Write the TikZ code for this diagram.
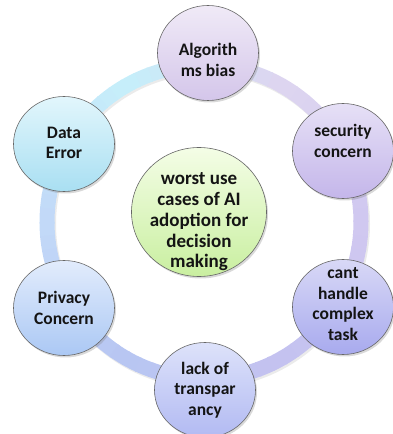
\documentclass[tikz,border=0pt]{standalone}
\usepackage{fontspec}
\setmainfont{Carlito}
\usetikzlibrary{shapes.geometric,shadows}
\definecolor{rA}{HTML}{D0C8F0}
\definecolor{rB}{HTML}{DDD5F0}
\definecolor{rC}{HTML}{C6EEFA}
\definecolor{rD}{HTML}{C2D9F8}
\definecolor{rE}{HTML}{B8C6F2}
\definecolor{rF}{HTML}{C4C2F0}
\definecolor{algT}{HTML}{F0EAF7}\definecolor{algB}{HTML}{D4C6EA}
\definecolor{datT}{HTML}{E2F6FC}\definecolor{datB}{HTML}{A9DFF2}
\definecolor{secT}{HTML}{E6E0F6}\definecolor{secB}{HTML}{C4B6EA}
\definecolor{cenT}{HTML}{F4FDE6}\definecolor{cenB}{HTML}{C9EFA0}
\definecolor{priT}{HTML}{E2ECFC}\definecolor{priB}{HTML}{ABC8F4}
\definecolor{canT}{HTML}{D8D8F6}\definecolor{canB}{HTML}{A8AAEE}
\definecolor{lacT}{HTML}{DDE2FA}\definecolor{lacB}{HTML}{B2BAF2}
\begin{document}
\begin{tikzpicture}[x=1pt,y=1pt,
  bub/.style={ellipse, draw=black!60, line width=0.6pt, inner sep=0pt,
    minimum width=101pt, minimum height=95pt,
    drop shadow={opacity=0.3, shadow xshift=1.5pt, shadow yshift=-2pt}},
  lbl/.style={align=center, inner sep=0pt, text=black!92,
    font=\fontsize{17.5}{20.5}\selectfont\bfseries},
  clbl/.style={lbl, font=\fontsize{19}{20.8}\selectfont\bfseries}]
\useasboundingbox (0,0) rectangle (393,434);
% ring shadow
\draw[line width=15pt, black, opacity=0.08] (205.5,210) circle[radius=157];
% ring
\foreach \a/\ca/\cb in {0/rA/rB,60/rB/rC,120/rC/rD,180/rD/rE,240/rE/rF,300/rF/rA}{
  \foreach \i in {0,...,11}{
    \pgfmathtruncatemacro\p{100-\i*100/11}
    \pgfmathsetmacro\s{\a+5*\i}
    \draw[line width=15pt, draw=\ca!\p!\cb] (204,212) ++(\s:157) arc[start angle=\s, delta angle=5.6, radius=157];
  }
}
\node[bub, top color=algT, bottom color=algB] (alg) at (208,381) {};
\node[bub, top color=datT, bottom color=datB] (dat) at (64,290) {};
\node[bub, top color=secT, bottom color=secB] (sec) at (343,283) {};
\node[bub, top color=priT, bottom color=priB] (pri) at (64,126) {};
\node[bub, top color=canT, bottom color=canB] (can) at (343,127) {};
\node[bub, top color=lacT, bottom color=lacB] (lac) at (205,44) {};
\node[bub, minimum width=135pt, minimum height=129pt, top color=cenT, bottom color=cenB] (cen) at (199,222) {};
\node[lbl] (alg-t) at ([yshift=-7pt]alg.center) {Algorith\\ms bias};
\node[lbl] (dat-t) at ([yshift=1pt]dat.center) {Data\\Error};
\node[lbl] (sec-t) at ([yshift=10pt]sec.center) {security\\concern};
\node[lbl] (pri-t) at (pri.center) {Privacy\\Concern};
\node[lbl] (can-t) at ([yshift=3pt]can.center) {cant\\handle\\complex\\task};
\node[lbl] (lac-t) at (lac.center) {lack of\\transpar\\ancy};
\node[clbl] (cen-t) at ([yshift=-10pt]cen.center) {worst use\\cases of AI\\adoption for\\decision\\making};
\end{tikzpicture}
\end{document}
